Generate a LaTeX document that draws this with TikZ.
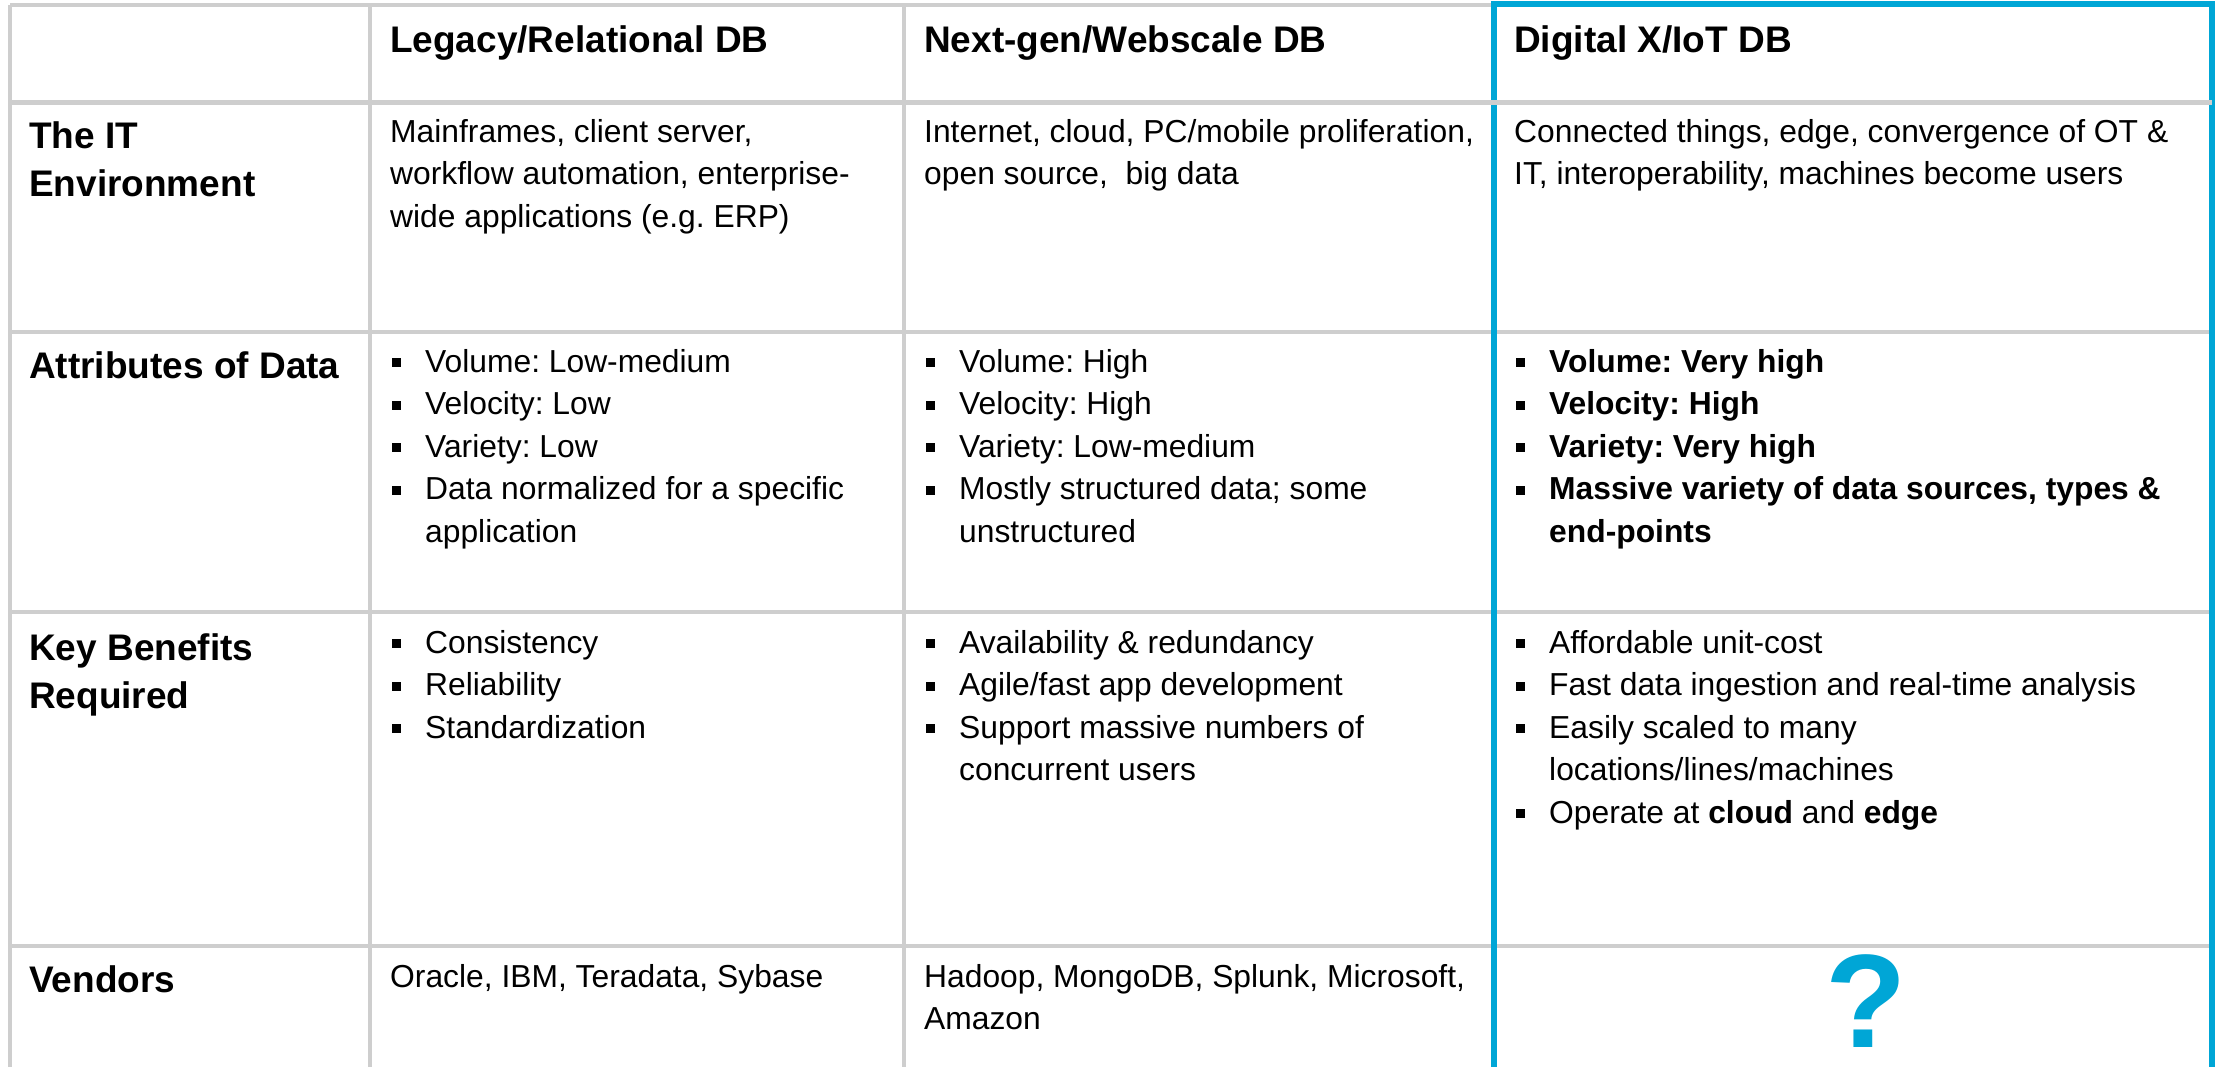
\documentclass[tikz,border=0pt]{standalone}
\usepackage{fontspec}
\setmainfont{Liberation Sans}
\frenchspacing
\definecolor{gridgray}{RGB}{206,206,206}
\definecolor{iotblue}{RGB}{0,166,214}

% square bullet with its hanging indent, and the indent of a continued line
\newcommand{\bsq}{\hspace*{2pt}\rule[5pt]{9pt}{9pt}\hspace*{24pt}}
\newcommand{\cont}{\hspace*{35pt}}
\newcommand{\cellbox}[1]{\parbox[t]{680pt}{\raggedright #1}}

\begin{document}
\begin{tikzpicture}[x=1pt,y=-1pt,
  gridline/.style={draw=gridgray,line width=3.5pt},
  headline/.style={draw=gridgray,line width=5pt},
  frameline/.style={draw=iotblue,line width=6pt},
  body/.style={anchor=base west,inner sep=0pt,
    font=\fontsize{31.8}{42.5}\selectfont},
  head/.style={anchor=base west,inner sep=0pt,
    font=\fontsize{37}{48.5}\selectfont\bfseries},
  ask/.style={anchor=base,inner sep=0pt,text=iotblue,
    font=\fontsize{133}{133}\selectfont\bfseries}]

\useasboundingbox (0,0) rectangle (2225,1066);
\fill[white] (0,0) rectangle (2225,1066);

% table grid
\draw[gridline] (10,5) -- (1494,5);
\draw[gridline] (10,5) -- (10,1070);
\draw[gridline] (370,5) -- (370,1070);
\draw[gridline] (904,5) -- (904,1070);
\draw[gridline] (10,332) -- (2212,332);
\draw[gridline] (10,612) -- (2212,612);
\draw[gridline] (10,946) -- (2212,946);

% highlighted column
\draw[frameline] (1494,1072) -- (1494,4) -- (2212,4) -- (2212,1072);
\draw[headline] (10,102.5) -- (2212,102.5);

% column headings
\node[head] (hLeg) at (390,52) {Legacy/Relational DB};
\node[head] (hNext) at (924,52) {Next-gen/Webscale DB};
\node[head] (hIot) at (1514,52) {Digital X/IoT DB};

% row headings
\node[head] (rEnv) at (29,148) {\cellbox{The IT\\Environment}};
\node[head] (rAttr) at (29,378) {Attributes of Data};
\node[head] (rBen) at (29,660) {\cellbox{Key Benefits\\Required}};
\node[head] (rVen) at (29,992) {Vendors};

% the IT environment
\node[body] (envLeg) at (390,142) {\cellbox{Mainframes, client server,\\
  workflow automation, enterprise-\\wide applications (e.g. ERP)}};
\node[body] (envNext) at (924,142) {\cellbox{Internet, cloud, PC/mobile proliferation,\\
  open source, \ big data}};
\node[body] (envIot) at (1514,142) {\cellbox{Connected things, edge, convergence of OT \&\\
  IT, interoperability, machines become users}};

% attributes of data
\node[body] (attLeg) at (390,372) {\cellbox{\bsq Volume: Low-medium\\
  \bsq Velocity: Low\\
  \bsq Variety: Low\\
  \bsq Data normalized for a specific\\
  \cont application}};
\node[body] (attNext) at (924,372) {\cellbox{\bsq Volume: High\\
  \bsq Velocity: High\\
  \bsq Variety: Low-medium\\
  \bsq Mostly structured data; some\\
  \cont unstructured}};
\node[body] (attIot) at (1514,372) {\cellbox{\bfseries\bsq Volume: Very high\\
  \bsq Velocity: High\\
  \bsq Variety: Very high\\
  \bsq Massive variety of data sources, types \&\\
  \cont end-points}};

% key benefits required
\node[body] (benLeg) at (390,653) {\cellbox{\bsq Consistency\\
  \bsq Reliability\\
  \bsq Standardization}};
\node[body] (benNext) at (924,653) {\cellbox{\bsq Availability \& redundancy\\
  \bsq Agile/fast app development\\
  \bsq Support massive numbers of\\
  \cont concurrent users}};
\node[body] (benIot) at (1514,653) {\cellbox{\bsq Affordable unit-cost\\
  \bsq Fast data ingestion and real-time analysis\\
  \bsq Easily scaled to many\\
  \cont locations/lines/machines\\
  \bsq Operate at \textbf{cloud} and \textbf{edge}}};

% vendors
\node[body] (venLeg) at (390,987) {Oracle, IBM, Teradata, Sybase};
\node[body] (venNext) at (924,987) {\cellbox{Hadoop, MongoDB, Splunk, Microsoft,\\Amazon}};
\node[ask] (venIot) at (1866,1047) {?};

\end{tikzpicture}
\end{document}
